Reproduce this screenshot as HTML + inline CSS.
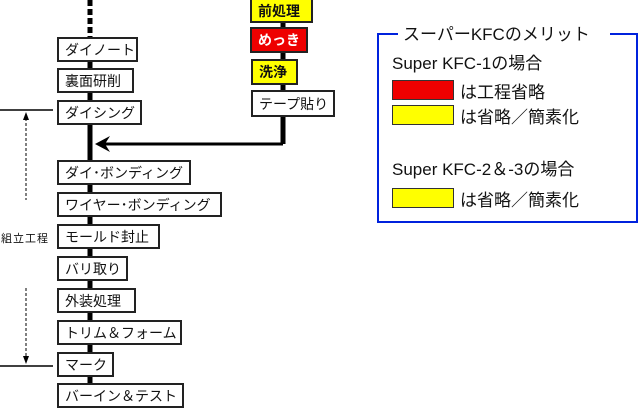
<!DOCTYPE html>
<html><head><meta charset="utf-8"><style>
body{margin:0;width:640px;height:400px;overflow:hidden;background:#fff;position:relative;font-family:"Liberation Sans","Noto Sans CJK JP",sans-serif;}
.b{position:absolute;border:2px solid #222;background:#fff;box-sizing:border-box;font-size:14px;padding-left:6px;color:#111;white-space:nowrap;display:flex;align-items:center;}
.t{position:absolute;white-space:nowrap;color:#111;}
</style></head><body>
<svg width="640" height="400" style="position:absolute;left:0;top:0">
<line x1="90" y1="0" x2="90" y2="36" stroke="#000" stroke-width="5" stroke-dasharray="6,3"/>
<line x1="90" y1="36" x2="90" y2="400" stroke="#000" stroke-width="5"/>
<line x1="283" y1="0" x2="283" y2="144" stroke="#000" stroke-width="5"/>
<line x1="283" y1="144" x2="100" y2="144" stroke="#000" stroke-width="3"/>
<polygon points="95,144 110,136 105,144 110,152" fill="#000"/>
<line x1="0" y1="110" x2="53" y2="110" stroke="#000" stroke-width="1.5"/>
<line x1="0" y1="366" x2="53" y2="366" stroke="#000" stroke-width="1.5"/>
<line x1="26" y1="118" x2="26" y2="200" stroke="#000" stroke-width="1" stroke-dasharray="3,2"/>
<polygon points="26,112 23,120 29,120" fill="#000"/>
<line x1="26" y1="288" x2="26" y2="358" stroke="#000" stroke-width="1" stroke-dasharray="3,2"/>
<polygon points="26,364 23,356 29,356" fill="#000"/>
<path d="M398 34 H378 V222 H637 V34 H610" fill="none" stroke="#0022dd" stroke-width="2"/>
</svg>
<div class="b" style="left:57px;top:37px;width:81px;height:25px">ダイノート</div>
<div class="b" style="left:57px;top:68px;width:77px;height:25px">裏面研削</div>
<div class="b" style="left:57px;top:100px;width:85px;height:25px">ダイシング</div>
<div class="b" style="left:57px;top:160px;width:134px;height:25px">ダイ･ボンディング</div>
<div class="b" style="left:57px;top:192px;width:165px;height:25px">ワイヤー･ボンディング</div>
<div class="b" style="left:57px;top:224px;width:103px;height:25px">モールド封止</div>
<div class="b" style="left:57px;top:256px;width:71px;height:25px">バリ取り</div>
<div class="b" style="left:57px;top:288px;width:79px;height:25px">外装処理</div>
<div class="b" style="left:57px;top:320px;width:125px;height:25px">トリム＆フォーム</div>
<div class="b" style="left:57px;top:352px;width:57px;height:25px">マーク</div>
<div class="b" style="left:57px;top:383px;width:127px;height:25px">バーイン＆テスト</div>
<div class="b" style="left:250px;top:-2px;width:63px;height:25px;background:#ffff00;font-weight:bold">前処理</div>
<div class="b" style="left:250px;top:27px;width:58px;height:26px;background:#ee0000;color:#fff;font-weight:bold">めっき</div>
<div class="b" style="left:251px;top:59px;width:47px;height:26px;background:#ffff00;font-weight:bold">洗浄</div>
<div class="b" style="left:251px;top:90px;width:84px;height:27px">テープ貼り</div>
<div class="t" style="left:1px;top:230px;font-size:11px;letter-spacing:1px">組立工程</div>
<div class="t" style="left:400px;top:20px;font-size:17px;background:#fff;padding:0 3px">スーパーKFCのメリット</div>
<div class="t" style="left:392px;top:49px;font-size:17px">Super KFC-1の場合</div>
<div style="position:absolute;left:392px;top:80px;width:60px;height:18px;background:#ee0000;border:1px solid #333"></div>
<div class="t" style="left:460px;top:78px;font-size:17px">は工程省略</div>
<div style="position:absolute;left:392px;top:105px;width:60px;height:18px;background:#ffff00;border:1px solid #333"></div>
<div class="t" style="left:460px;top:103px;font-size:17px">は省略／簡素化</div>
<div class="t" style="left:392px;top:155px;font-size:17px">Super KFC-2＆-3の場合</div>
<div style="position:absolute;left:392px;top:188px;width:60px;height:18px;background:#ffff00;border:1px solid #333"></div>
<div class="t" style="left:460px;top:186px;font-size:17px">は省略／簡素化</div>
</body></html>
